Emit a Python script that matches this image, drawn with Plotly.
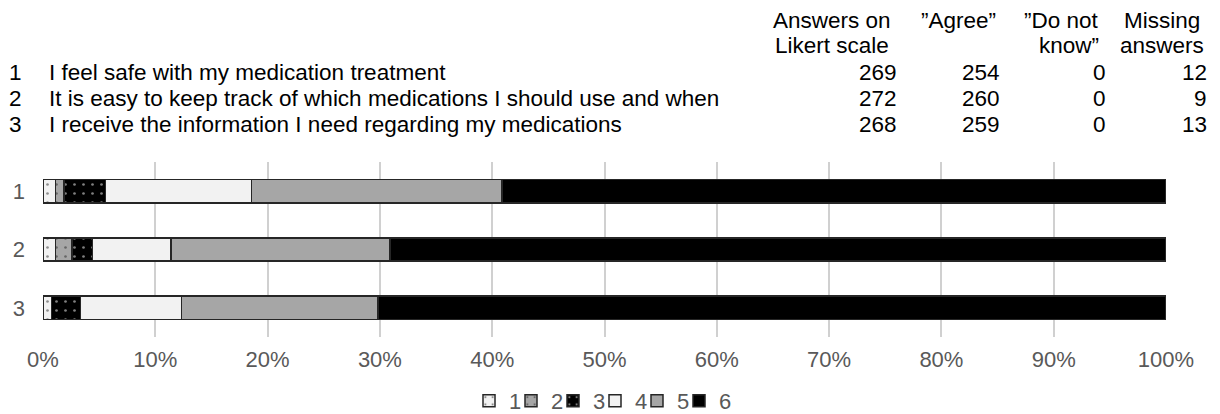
import plotly.graph_objects as go

# Survey items
questions = ["1", "2", "3"]
statements = [
    "I feel safe with my medication treatment",
    "It is easy to keep track of which medications I should use and when",
    "I receive the information I need regarding my medications",
]
likert_answers = [269, 272, 268]
agree_answers = [254, 260, 259]
dont_know_answers = [0, 0, 0]
missing_answers = [12, 9, 13]

# Number of responses for each Likert level (1 = lowest, 6 = highest)
levels = ["1", "2", "3", "4", "5", "6"]
level_1 = [3, 3, 2]
level_2 = [2, 4, 0]
level_3 = [10, 5, 7]
level_4 = [35, 19, 24]
level_5 = [60, 53, 47]
level_6 = [159, 188, 188]
level_counts = [level_1, level_2, level_3, level_4, level_5, level_6]

x_ticks = list(range(0, 101, 10))

# Styling per level: fill colour, dotted pattern and dot colour
fills = ["#f2f2f2", "#a6a6a6", "#000000", "#f2f2f2", "#a6a6a6", "#000000"]
dotted = [True, True, True, False, False, False]
dot_colors = ["#262626", "#262626", "#ffffff", None, None, None]

FONT = "Liberation Sans, Arial, sans-serif"
W, H = 1220, 414
ML, MR, MT, MB = 43, 54, 162, 77
PW, PH = W - ML - MR, H - MT - MB


def px(x):
    return (x - ML) / PW


def py(y):
    return (H - MB - y) / PH


# each level gets its own small legend box so the entries sit close together
legend_ids = ["legend"] + [f"legend{i}" for i in range(2, len(levels) + 1)]

fig = go.Figure()
for name, counts, fill, dots, dcol, lid in zip(levels, level_counts, fills, dotted, dot_colors, legend_ids):
    pattern = dict(shape=".", fgcolor=dcol, size=9, solidity=0.07) if dots else dict(shape="")
    fig.add_trace(go.Bar(
        name=name,
        y=questions,
        x=counts,
        orientation="h",
        width=0.4,
        legend=lid,
        marker=dict(color=fill, line=dict(color="#262626", width=1.5), pattern=pattern),
    ))

# Table of statements and answer counts above the chart
ann = []
text_font = dict(family=FONT, size=22.5, color="#000000")


def add_text(text, x, y, anchor):
    ann.append(dict(text=text, x=px(x), y=py(y), xref="paper", yref="paper",
                    xanchor=anchor, yanchor="middle", showarrow=False, font=text_font))


add_text("Answers on", 832, 20, "center")
add_text("Likert scale", 832, 45, "center")
add_text("\u201dAgree\u201d", 958, 20, "center")
add_text("\u201dDo not", 1101, 20, "right")
add_text("know\u201d", 1101, 45, "right")
add_text("Missing", 1162, 20, "center")
add_text("answers", 1162, 45, "center")

row_y = [72, 98, 124]
for i in range(len(questions)):
    y = row_y[i]
    add_text(questions[i], 15, y, "center")
    add_text(statements[i], 47, y, "left")
    add_text(str(likert_answers[i]), 899, y, "right")
    add_text(str(agree_answers[i]), 1002, y, "right")
    add_text(str(dont_know_answers[i]), 1108, y, "right")
    add_text(str(missing_answers[i]), 1209, y, "right")

legend_layout = {}
first_symbol_px, symbol_step_px, symbol_offset_px = 489, 42, 20
for i, lid in enumerate(legend_ids):
    legend_layout[lid] = dict(
        orientation="h",
        x=px(first_symbol_px + i * symbol_step_px - symbol_offset_px),
        xanchor="left",
        y=py(401),
        yanchor="middle",
        font=dict(family=FONT, size=22, color="#595959"),
        itemwidth=30,
        bgcolor="rgba(0,0,0,0)",
    )

fig.update_layout(
    width=W,
    height=H,
    margin=dict(l=ML, r=MR, t=MT, b=MB, autoexpand=False),
    paper_bgcolor="white",
    plot_bgcolor="white",
    barmode="stack",
    barnorm="percent",
    bargap=0.6,
    font=dict(family=FONT, size=22, color="#595959"),
    annotations=ann,
    showlegend=True,
    xaxis=dict(
        range=[0, 100],
        tickvals=x_ticks,
        ticktext=[f"{v}%" for v in x_ticks],
        showgrid=True,
        gridcolor="#d0d0d0",
        gridwidth=2,
        zeroline=False,
        showline=False,
        ticks="",
        ticklabelstandoff=7,
        tickfont=dict(family=FONT, size=22, color="#595959"),
    ),
    yaxis=dict(
        type="category",
        categoryorder="array",
        categoryarray=questions,
        autorange="reversed",
        showgrid=False,
        zeroline=False,
        showline=False,
        ticks="",
        ticklabelstandoff=17,
        tickfont=dict(family=FONT, size=22, color="#595959"),
    ),
    **legend_layout,
)

fig.write_html("out.html")
